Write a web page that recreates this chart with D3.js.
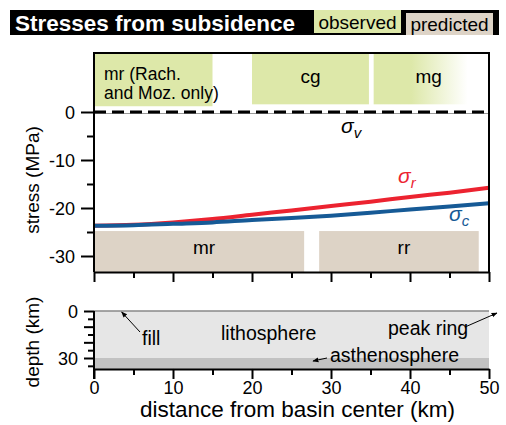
<!DOCTYPE html>
<html><head><meta charset="utf-8">
<script src="https://cdn.jsdelivr.net/npm/d3@7"></script>
<style>
body{margin:0;background:#fff;}
text{font-family:"Liberation Sans",Arial,Helvetica,sans-serif;}
</style></head>
<body><svg id="c" width="506" height="425"></svg>
<script>
// ---- data ----
const distance = [0,5,10,15,20,25,30,35,40,45,50];
const sigmaR   = [-23.7,-23.5,-23.0,-22.3,-21.4,-20.5,-19.6,-18.7,-17.7,-16.8,-15.8];
const sigmaC   = [-23.7,-23.6,-23.3,-23.0,-22.5,-22.1,-21.6,-21.0,-20.3,-19.7,-19.0];
const observedLabels = ["mr (Rach.|and Moz. only)","cg","mg"];
const observedStart  = [0,20,35.4];
const observedEnd    = [15,34.8,47.3];
const observedBottom = [1.2,1.6,1.6];
const predictedLabels = ["mr","rr"];
const predictedStart  = [0,28.5];
const predictedEnd    = [26.6,48.7];
const predictedTop    = -24.8;
const stressTicks = [0,-10,-20,-30];
const stressMinor = [-5,-15,-25];
const distTicks = [0,10,20,30,40,50];
const distMinor = [5,15,25,35,45];
const depthTicks = [0,10,20,30];
const depthMinor = [5,15,25,35];
const depthLabels = [0,30];
const layerNames = ["lithosphere","asthenosphere"];
const layerTop = [0,30];
const layerBottom = [30,37];

const svg = d3.select("#c");
const green = "#dde8a9", beige = "#ddd3c6";

// ---- title bar ----
svg.append("rect").attr("x",10).attr("y",10).attr("width",489).attr("height",25).attr("fill","#000");
svg.append("text").attr("x",15).attr("y",31).attr("fill","#fff").attr("font-weight","bold")
  .attr("font-size",22.5).text("Stresses from subsidence");
svg.append("rect").attr("x",314).attr("y",10).attr("width",87).attr("height",23).attr("fill",green);
svg.append("text").attr("x",357.5).attr("y",29).attr("text-anchor","middle").attr("font-size",19).text("observed");
svg.append("rect").attr("x",406).attr("y",13).attr("width",87).attr("height",22).attr("fill",beige);
svg.append("text").attr("x",449.5).attr("y",31).attr("text-anchor","middle").attr("font-size",19).text("predicted");

// ---- scales ----
const x = d3.scaleLinear().domain([0,50]).range([94,489]);
const y = d3.scaleLinear().domain([0,-30]).range([112,256]);
const yTopVal = y.invert(53), yBotVal = y.invert(272);
const yd = d3.scaleLinear().domain([0,30]).range([311,358]);

// gradient for mg
const defs = svg.append("defs");
const gr = defs.append("linearGradient").attr("id","fade").attr("x1","0").attr("x2","1");
gr.append("stop").attr("offset","0").attr("stop-color",green);
gr.append("stop").attr("offset","0.4").attr("stop-color",green);
gr.append("stop").attr("offset","1").attr("stop-color","#fff");

// observed boxes
const obsLabelShift = [0,0,8];
observedLabels.forEach((lab,i)=>{
  svg.append("rect").attr("x",x(observedStart[i])).attr("y",y(yTopVal))
    .attr("width",x(observedEnd[i])-x(observedStart[i]))
    .attr("height",y(observedBottom[i])-y(yTopVal))
    .attr("fill", i===2 ? "url(#fade)" : green);
  const lines = lab.split("|");
  if(lines.length>1){
    lines.forEach((l,j)=>svg.append("text").attr("x",x(observedStart[i])+10).attr("y",80+j*19)
      .attr("font-size",17.5).text(l));
  } else {
    svg.append("text").attr("x",(x(observedStart[i])+x(observedEnd[i]))/2+obsLabelShift[i]).attr("y",83)
      .attr("text-anchor","middle").attr("font-size",19).text(lab);
  }
});
// predicted boxes
predictedLabels.forEach((lab,i)=>{
  svg.append("rect").attr("x",x(predictedStart[i])).attr("y",y(predictedTop))
    .attr("width",x(predictedEnd[i])-x(predictedStart[i]))
    .attr("height",y(yBotVal)-y(predictedTop)).attr("fill",beige);
  svg.append("text").attr("x",(x(predictedStart[i])+x(predictedEnd[i]))/2+5).attr("y",254)
    .attr("text-anchor","middle").attr("font-size",19).text(lab);
});

// sigma_v line
svg.append("line").attr("x1",x(0)).attr("x2",x(50)).attr("y1",y(0)+1.5).attr("y2",y(0)+1.5)
  .attr("stroke","#999").attr("stroke-width",1);
svg.append("line").attr("x1",x(0)).attr("x2",x(50)).attr("y1",y(0)).attr("y2",y(0))
  .attr("stroke","#000").attr("stroke-width",3).attr("stroke-dasharray","12,6");

// curves
const line = d3.line().x((d,i)=>x(distance[i])).y(d=>y(d)).curve(d3.curveMonotoneX);
svg.append("path").attr("d",line(sigmaR)).attr("fill","none").attr("stroke","#ec2330").attr("stroke-width",4);
svg.append("path").attr("d",line(sigmaC)).attr("fill","none").attr("stroke","#165a96").attr("stroke-width",4);

function sigma(xp,yp,sub,color){
  const t = svg.append("text").attr("x",xp).attr("y",yp).attr("fill",color).attr("font-size",21).attr("font-style","italic");
  t.append("tspan").text("σ");
  t.append("tspan").attr("font-size",15).attr("dy",5).text(sub);
}
sigma(341,133,"v","#000");
sigma(398,183,"r","#ec2330");
sigma(449,221,"c","#165a96");

// frame
svg.append("path").attr("d",`M${x(0)},${y(yBotVal)}V${y(yTopVal)}H${x(50)}V${y(yBotVal)}`)
  .attr("fill","none").attr("stroke","#000").attr("stroke-width",2);

// left axis top
const ya = svg.append("g").attr("transform",`translate(${x(0)},0)`)
  .call(d3.axisLeft(y).tickValues(stressTicks).tickSize(13).tickFormat(d=>d===0?"0":d));
ya.select(".domain").remove();
ya.selectAll("line").attr("stroke-width",2);
ya.selectAll("text").attr("font-size",18).attr("font-family","Liberation Sans, Arial").attr("x",-19).attr("dy","0.36em").attr("fill","#000");
const ym = svg.append("g").attr("transform",`translate(${x(0)},0)`)
  .call(d3.axisLeft(y).tickValues(stressMinor).tickSize(7).tickFormat(""));
ym.select(".domain").remove(); ym.selectAll("line").attr("stroke-width",2);

// bottom axes
function xAxisAt(yy, labels){
  const g = svg.append("g").attr("transform",`translate(0,${yy})`)
    .call(d3.axisBottom(x).tickValues(distTicks).tickSize(10).tickSizeOuter(0).tickFormat(labels?d3.format("d"):""));
  g.select(".domain").attr("stroke-width",2);
  g.selectAll("line").attr("stroke-width",2);
  g.selectAll("text").attr("font-size",18).attr("font-family","Liberation Sans, Arial").attr("y",12).attr("dy","0.71em").attr("fill","#000");
  const m = svg.append("g").attr("transform",`translate(0,${yy})`)
    .call(d3.axisBottom(x).tickValues(distMinor).tickSize(6).tickFormat(""));
  m.select(".domain").remove(); m.selectAll("line").attr("stroke-width",2);
}
xAxisAt(272,false);

svg.append("text").attr("transform","translate(39,180) rotate(-90)").attr("text-anchor","middle")
  .attr("font-size",19).text("stress (MPa)");

// ---- bottom plot ----
const layerFill = ["#e6e6e6","#c2c2c2"];
layerNames.forEach((n,i)=>{
  svg.append("rect").attr("x",x(0)).attr("y",yd(layerTop[i])).attr("width",x(50)-x(0))
    .attr("height",yd(layerBottom[i])-yd(layerTop[i])).attr("fill",layerFill[i]);
});
svg.append("line").attr("x1",x(0)).attr("x2",x(50)).attr("y1",yd(0)).attr("y2",yd(0)).attr("stroke","#888").attr("stroke-width",1.5);

const da = svg.append("g").attr("transform",`translate(${x(0)},0)`)
  .call(d3.axisLeft(yd).tickValues(depthTicks).tickSize(10).tickFormat(d=>depthLabels.includes(d)?d:""));
da.select(".domain").remove();
da.selectAll("line").attr("stroke-width",2);
da.selectAll("text").attr("font-size",18).attr("font-family","Liberation Sans, Arial").attr("x",-16).attr("dy","0.36em").attr("fill","#000");
const dm = svg.append("g").attr("transform",`translate(${x(0)},0)`)
  .call(d3.axisLeft(yd).tickValues(depthMinor).tickSize(6).tickFormat(""));
dm.select(".domain").remove(); dm.selectAll("line").attr("stroke-width",2);
svg.append("line").attr("x1",x(0)).attr("x2",x(0)).attr("y1",yd(0)).attr("y2",379).attr("stroke","#000").attr("stroke-width",2);

xAxisAt(yd(layerBottom[1]),true);

svg.append("text").attr("transform","translate(39,342) rotate(-90)").attr("text-anchor","middle")
  .attr("font-size",19).text("depth (km)");
svg.append("text").attr("x",x(25)+6).attr("y",417).attr("text-anchor","middle").attr("font-size",22.5)
  .text("distance from basin center (km)");

// annotations
defs.append("marker").attr("id","ah").attr("viewBox","0 0 10 10").attr("refX",9).attr("refY",5)
  .attr("markerWidth",6).attr("markerHeight",6).attr("orient","auto")
  .append("path").attr("d","M0,1L10,5L0,9z").attr("fill","#000");
function arrow(x1,y1,x2,y2){
  svg.append("line").attr("x1",x1).attr("y1",y1).attr("x2",x2).attr("y2",y2)
    .attr("stroke","#000").attr("stroke-width",1).attr("marker-end","url(#ah)");
}
svg.append("text").attr("x",142).attr("y",345).attr("font-size",19.5).text("fill");
arrow(140,332,x(3.5),yd(0)+1);
svg.append("text").attr("x",221).attr("y",340).attr("font-size",19.5).text(layerNames[0]);
svg.append("text").attr("x",388).attr("y",335).attr("font-size",19.5).text("peak ring");
arrow(465,327,497,313);
svg.append("text").attr("x",330).attr("y",362).attr("font-size",19.5).text(layerNames[1]);
arrow(327,358,313,361);
</script></body></html>
